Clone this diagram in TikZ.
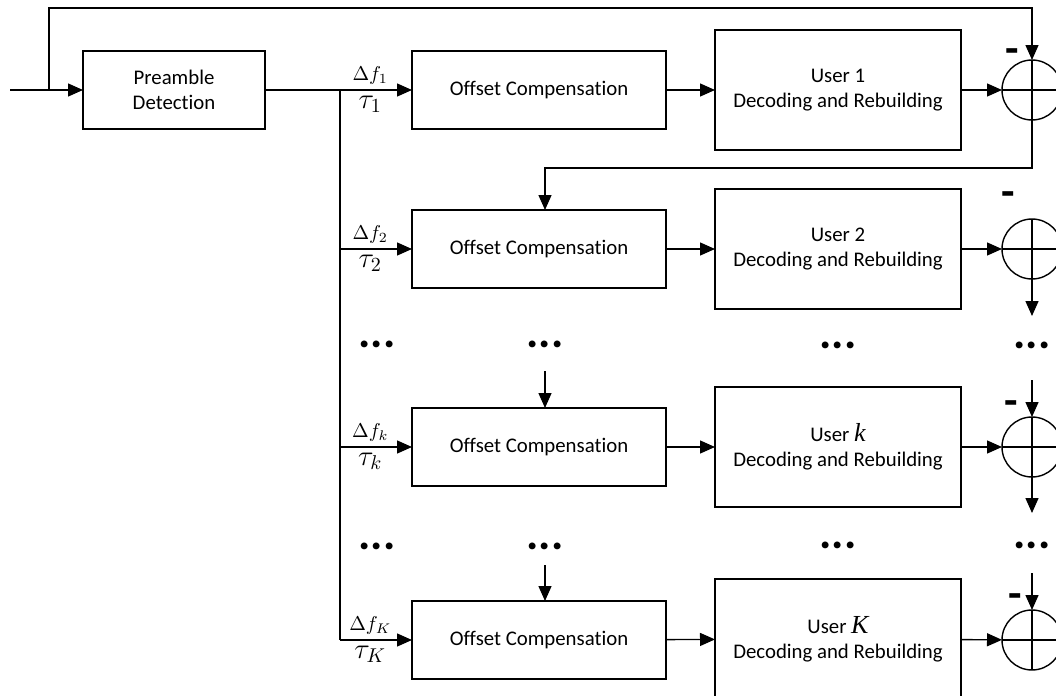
\documentclass[tikz,border=0pt]{standalone}
\usepackage{fontspec}
\setmainfont{Carlito}[Ligatures=NoCommon]
\newfontfamily\tnr{Liberation Serif}
\usetikzlibrary{arrows.meta}

\begin{document}
\begin{tikzpicture}[x=0.5pt,y=-0.5pt,
  -,>={Triangle[length=7.5pt,width=6.5pt]},line width=0.7pt,
  blk/.style={draw,rectangle,inner sep=0pt,outer sep=0pt,solid,align=center,font=\fontsize{10.4}{12.5}\selectfont},
  pre/.style={blk,minimum width=91pt,minimum height=39pt},
  comp/.style={blk,minimum width=127pt,minimum height=39pt},
  user/.style={blk,minimum width=123pt,minimum height=60pt},
  sum/.style={draw,circle,minimum size=30pt,inner sep=0pt,outer sep=0pt},
  dots/.style={font=\fontsize{23}{23}\selectfont\bfseries,inner sep=0pt},
  minus/.style={font=\fontsize{22}{22}\selectfont\bfseries,inner sep=0pt},
  df/.style={font=\fontsize{10}{10}\selectfont,inner sep=0pt,above=2.5pt,pos=0.42},
  tau/.style={font=\fontsize{14}{14}\selectfont,inner sep=0pt,below=2.5pt,pos=0.42}]
      \useasboundingbox (0,0) rectangle (1056,696);

      % blocks
      \node [pre] (pd) at (174,90) {Preamble\\Detection};

      \node [comp] (c1) at (539,90) {Offset Compensation};
      \node [comp] (c2) at (539,249) {Offset Compensation};
      \node [comp] (ck) at (539,447) {Offset Compensation};
      \node [comp] (cK) at (539,640) {Offset Compensation};

      \node [user] (u1) at (838,90) {User 1\\Decoding and Rebuilding};
      \node [user] (u2) at (838,249) {User 2\\Decoding and Rebuilding};
      \node [user] (uk) at (838,447) {User {\fontsize{13}{12.5}\tnr\itshape k}\\Decoding and Rebuilding};
      \node [user] (uK) at (838,639) {User {\fontsize{13}{12.5}\tnr\itshape K}\\Decoding and Rebuilding};

      \node [sum] (s1) at (1032,90) {};
      \node [sum] (s2) at (1032,249) {};
      \node [sum] (sk) at (1032,447) {};
      \node [sum] (sK) at (1032,640) {};

      % minus signs
      \node [minus] (m1) at (1012,56) {-};
      \node [minus] (m2) at (1008,199) {-};
      \node [minus] (mk) at (1011,408) {-};
      \node [minus] (mK) at (1015,601) {-};

      % dots
      \node [dots] (d1) at (377,344) {...};
      \node [dots] (d2) at (545,344) {...};
      \node [dots] (d3) at (838,345) {...};
      \node [dots] (d4) at (1032,345) {...};
      \node [dots] (d5) at (377,546) {...};
      \node [dots] (d6) at (545,546) {...};
      \node [dots] (d7) at (838,545) {...};
      \node [dots] (d8) at (1032,545) {...};

      % points
      \coordinate (in) at (10,90);
      \coordinate (fb) at (49,90);
      \coordinate (top) at (1032,8);
      \coordinate (br) at (340,90);
      \coordinate (b2) at (340,249);
      \coordinate (bk) at (340,447);
      \coordinate (bK) at (340,640);
      \coordinate (r2) at (1032,168);
      \coordinate (l2) at (545,168);
      \coordinate (ak) at (545,371);
      \coordinate (aK) at (545,565);
      \coordinate (o2) at (1032,316);
      \coordinate (ek) at (1032,380);
      \coordinate (ok) at (1032,513);
      \coordinate (eK) at (1032,573);

      % input and feedback
      \draw (in) -- (fb);
      \draw[->] (fb) -- (pd);
      \draw[->] (fb) |- (top) -- (s1);
      \draw (pd) -- (br) -- (bK);

      % branches
      \draw[->] (br) -- node[df]{$\Delta f_1$} node[tau]{$\tau_1$} (c1);
      \draw[->] (b2) -- node[df]{$\Delta f_2$} node[tau]{$\tau_2$} (c2);
      \draw[->] (bk) -- node[df]{$\Delta f_k$} node[tau]{$\tau_k$} (ck);
      \draw[->] (bK) -- node[df]{$\Delta f_K$} node[tau]{$\tau_K$} (cK);

      \draw[->] (c1) -- (u1);
      \draw[->] (c2) -- (u2);
      \draw[->] (ck) -- (uk);
      \draw[->] (cK) -- (uK);

      \draw[->] (u1) -- (s1);
      \draw[->] (u2) -- (s2);
      \draw[->] (uk) -- (sk);
      \draw[->] (uK) -- (sK);

      % crosshairs
      \foreach \s in {s1,s2,sk,sK}{
        \draw (\s.north) -- (\s.south);
        \draw (\s.west) -- (\s.east);
      }

      % cancellation chain
      \draw[->] (s1.south) -- (r2) -- (l2) -- (l2 |- c2.north);
      \draw[->] (s2.south) -- (o2);
      \draw[->] (ek) -- (sk.north);
      \draw[->] (sk.south) -- (ok);
      \draw[->] (eK) -- (sK.north);
      \draw[->] (ak) -- (ak |- ck.north);
      \draw[->] (aK) -- (aK |- cK.north);

\end{tikzpicture}
\end{document}
